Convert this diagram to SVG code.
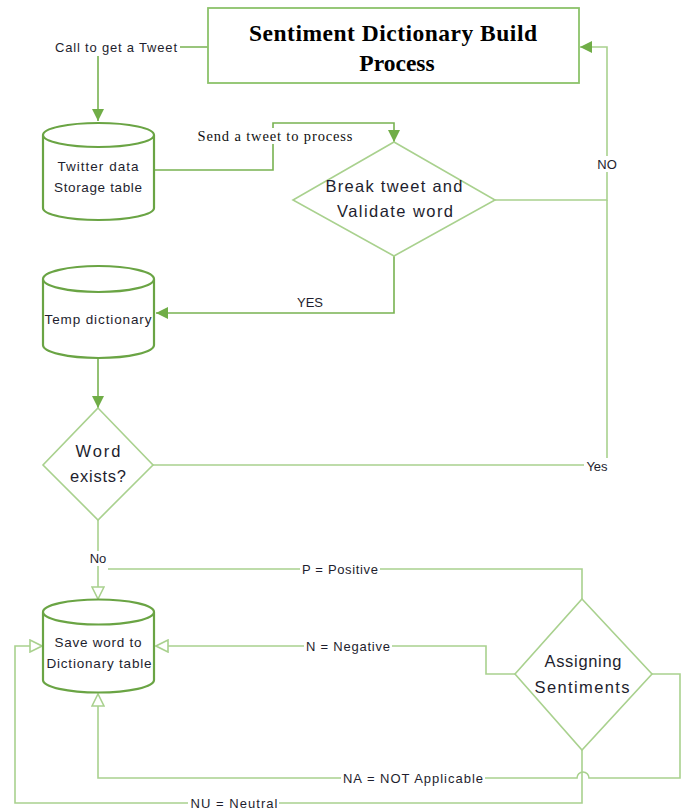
<svg xmlns="http://www.w3.org/2000/svg" width="686" height="812" viewBox="0 0 686 812">
<style>
.cyl{fill:#fff;stroke:#6aa444;stroke-width:2.2}
.dia{fill:#fff;stroke:#a9d18e;stroke-width:1.6}
.ttl{fill:#fff;stroke:#8cc26a;stroke-width:1.8}
.c1{fill:none;stroke:#78b251;stroke-width:1.6}
.c2{fill:none;stroke:#a9d18e;stroke-width:1.6}
.t{font-family:"Liberation Sans",Arial,sans-serif;font-size:13.5px;fill:#1e1e2e;text-anchor:middle}
.tl{font-family:"Liberation Sans",Arial,sans-serif;font-size:13px;fill:#1e1e2e;text-anchor:middle}
.td{font-family:"Liberation Sans",Arial,sans-serif;font-size:16.5px;fill:#1e1e2e;text-anchor:middle}
.ts{font-family:"Liberation Serif","Times New Roman",serif;font-size:14.5px;fill:#111;text-anchor:middle}
.tt{font-family:"Liberation Serif","Times New Roman",serif;font-size:23.5px;font-weight:bold;fill:#000;text-anchor:middle}
.bg{fill:#fff}
</style>
<defs>
<marker id="af" viewBox="0 0 12 12" refX="12" refY="6" markerWidth="12" markerHeight="12" markerUnits="userSpaceOnUse" orient="auto">
<path d="M0,0 L12,6 L0,12 Z" fill="#70ad47"/>
</marker>
<marker id="ao" viewBox="0 0 14 14" refX="13" refY="7" markerWidth="14" markerHeight="14" markerUnits="userSpaceOnUse" orient="auto">
<path d="M1,1 L13,7 L1,13 Z" fill="#fff" stroke="#a9d18e" stroke-width="1.6"/>
</marker>
</defs>

<g id="connectors">
<path class="c1" d="M208,47 H98 V121" marker-end="url(#af)"/>
<path class="c1" d="M155,170 H273 V123 H394 V142" marker-end="url(#af)"/>
<path class="c1" d="M394,256 V313 H156" marker-end="url(#af)"/>
<path class="c2" d="M495,200 H607 V47 H580" marker-end="url(#af)"/>
<path class="c1" d="M98,359 V408" marker-end="url(#af)"/>
<path class="c2" d="M153,465 H607 V200"/>
<path class="c2" d="M98,520 V599" marker-end="url(#ao)"/>
<path class="c2" d="M582,599 V569 H108"/>
<path class="c2" d="M515,674 H486 V646 H156" marker-end="url(#ao)"/>
<path class="c2" d="M652,674 H680 V778 H589 A6,6 0 0 0 577,778 H98 V694" marker-end="url(#ao)"/>
<path class="c2" d="M582,750 V803 H15 V646 H42" marker-end="url(#ao)"/>

<rect class="bg" x="54" y="39" width="126" height="17"/>
<text class="tl" x="116" y="52" textLength="122">Call to get a Tweet</text>
<rect class="bg" x="196" y="128" width="158" height="16"/>
<text class="ts" x="275" y="141" textLength="155">Send a tweet to process</text>
<text class="tl" x="310" y="307">YES</text>
<rect class="bg" x="596" y="156" width="22" height="16"/>
<text class="tl" x="607" y="169">NO</text>
<rect class="bg" x="584" y="458" width="28" height="16"/>
<text class="tl" x="597" y="471">Yes</text>
<rect class="bg" x="86" y="551" width="24" height="15"/>
<text class="tl" x="98" y="563">No</text>
<rect class="bg" x="300" y="562" width="80" height="15"/>
<text class="tl" x="340" y="574" textLength="76">P = Positive</text>
<rect class="bg" x="304" y="639" width="88" height="15"/>
<text class="tl" x="348" y="651" textLength="84">N = Negative</text>
<rect class="bg" x="341" y="771" width="144" height="15"/>
<text class="tl" x="413" y="783" textLength="140">NA = NOT Applicable</text>
<rect class="bg" x="188" y="796" width="91" height="15"/>
<text class="tl" x="234" y="808" textLength="87">NU = Neutral</text>
</g>

<g id="title">
<rect class="ttl" x="208" y="8" width="371" height="75"/>
<text class="tt" x="393" y="41" textLength="288">Sentiment Dictionary Build</text>
<text class="tt" x="397" y="71">Process</text>
</g>

<g id="twitter">
<path class="cyl" d="M43,135 A55.5,12 0 0 1 154,135 A55.5,12 0 0 1 43,135 V208 A55.5,12 0 0 0 154,208 V135"/>
<text class="t" x="98" y="171" textLength="81">Twitter data</text>
<text class="t" x="98" y="192" textLength="88">Storage table</text>
</g>

<g id="break">
<polygon class="dia" points="394,142 495,200 394,256 293,200"/>
<text class="td" x="394" y="192" textLength="137">Break tweet and</text>
<text class="td" x="395" y="217" textLength="116">Validate word</text>
</g>

<g id="temp">
<path class="cyl" d="M43,279 A55.5,13 0 0 1 154,279 A55.5,13 0 0 1 43,279 V345 A55.5,13 0 0 0 154,345 V279"/>
<text class="t" x="98" y="324" textLength="107">Temp dictionary</text>
</g>

<g id="exists">
<polygon class="dia" points="98,408 153,465 98,520 43,465"/>
<text class="td" x="98" y="457" textLength="45">Word</text>
<text class="td" x="98" y="482" textLength="56">exists?</text>
</g>

<g id="save">
<path class="cyl" d="M43,612 A55.5,12.5 0 0 1 154,612 A55.5,12.5 0 0 1 43,612 V680 A55.5,12.5 0 0 0 154,680 V612"/>
<text class="t" x="98" y="647" textLength="87">Save word to</text>
<text class="t" x="99" y="668" textLength="105">Dictionary table</text>
</g>

<g id="assign">
<polygon class="dia" points="582,599 652,674 582,750 515,674"/>
<text class="td" x="583" y="667" textLength="77">Assigning</text>
<text class="td" x="582" y="693" textLength="95">Sentiments</text>
</g>
</svg>
